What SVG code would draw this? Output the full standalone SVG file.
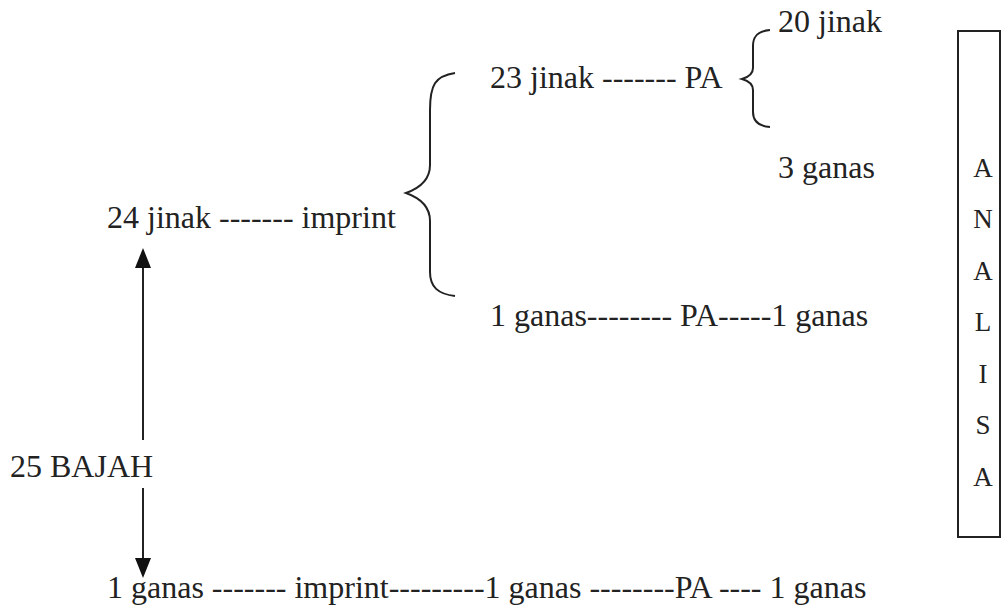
<svg xmlns="http://www.w3.org/2000/svg" width="1002" height="606" viewBox="0 0 1002 606">
<style>
.t{font-size:32px;fill:#222}
.v{font-size:27px;text-anchor:middle}
.br{fill:none;stroke:#222;stroke-width:2}
.ln{stroke:#222;stroke-width:2}
.ah{fill:#111}
</style>
<rect width="1002" height="606" fill="#fff"/>
<g id="connectors">
<path class="br" d="M455,73 C435,76 430,85 430,110 L430,165 C430,180 420,188 406,193 C420,198 430,206 430,221 L430,272 C430,287 438,294 455,296"/>
<path class="br" d="M770,30 C758,31 753,36 753,46 L753,68 C753,74 749,77 742,79 C749,81 753,84 753,90 L753,112 C753,121 758,126 770,127"/>
<line class="ln" x1="143" y1="264" x2="143" y2="440"/>
<polygon class="ah" points="143,248 135,268 151,268"/>
<line class="ln" x1="143" y1="488" x2="143" y2="560"/>
<polygon class="ah" points="143,578 135,558 151,558"/>
</g>
<g font-family="'Liberation Serif', Tinos, 'Times New Roman', 'DejaVu Serif', serif">
<g id="n20jinak"><text class="t" x="778" y="32">20 jinak</text></g>
<g id="n23jinak"><text class="t" x="490" y="88">23 jinak ------- PA</text></g>
<g id="n3ganas"><text class="t" x="778" y="178">3 ganas</text></g>
<g id="n24jinak"><text class="t" x="107" y="228">24 jinak ------- imprint</text></g>
<g id="n1ganasPA"><text class="t" x="490" y="326">1 ganas-------- PA-----1 ganas</text></g>
<g id="n25bajah"><text class="t" x="10" y="477">25 BAJAH</text></g>
<g id="nbottom"><text class="t" x="107" y="598">1 ganas ------- imprint---------1 ganas --------PA ---- 1 ganas</text></g>
<g id="analisa">
<rect x="958" y="31" width="42" height="506" fill="none" stroke="#222" stroke-width="2"/>
<text class="t v" x="983" y="177">A</text>
<text class="t v" x="983" y="228">N</text>
<text class="t v" x="983" y="280">A</text>
<text class="t v" x="983" y="331">L</text>
<text class="t v" x="983" y="383">I</text>
<text class="t v" x="983" y="434">S</text>
<text class="t v" x="983" y="486">A</text>
</g>
</g>
</svg>
